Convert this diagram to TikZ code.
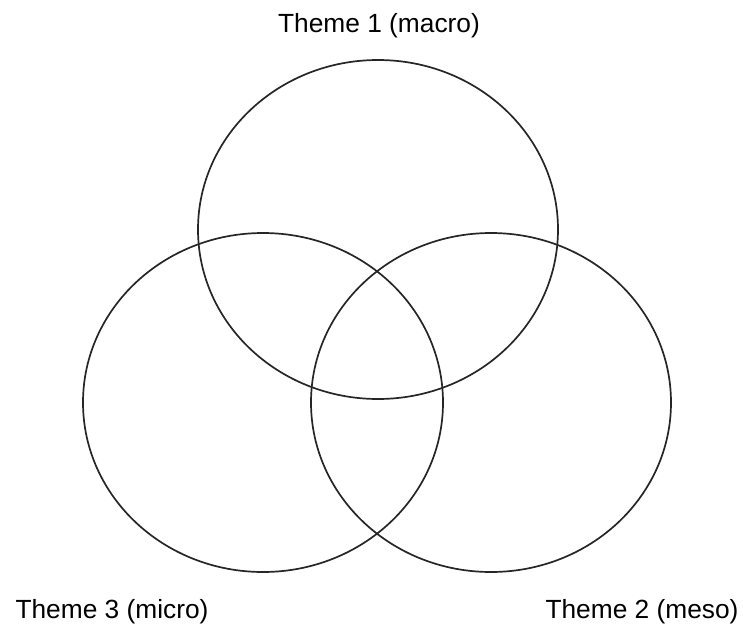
\documentclass[tikz,border=0pt]{standalone}
\usepackage{fontspec}
\setmainfont{Liberation Sans}
\usetikzlibrary{shapes.geometric}

\tikzset{
	theme/.style={draw=black!85, line width=1.7pt, ellipse, inner sep=0pt,
		minimum width=360pt, minimum height=339pt},
	themelabel/.style={anchor=base, inner sep=0pt, font=\fontsize{26.3}{30}\selectfont}
}

\begin{document}
\begin{tikzpicture}[x=1pt, y=-1pt]
			%%%%% START %%%%%
			
			\useasboundingbox (0, 0) rectangle (743, 624);
			
			\node[theme] (macro) at (378, 229.5) {};
			\node[theme] (micro) at (263, 402.5) {};
			\node[theme] (meso) at (491, 402.5) {};
			
			\node[themelabel] (macrolabel) at (379, 32) {Theme 1 (macro)};
			\node[themelabel] (microlabel) at (112, 618) {Theme 3 (micro)};
			\node[themelabel] (mesolabel) at (642, 618) {Theme 2 (meso)};
			
			%%%%% END %%%%%
		\end{tikzpicture}
\end{document}
